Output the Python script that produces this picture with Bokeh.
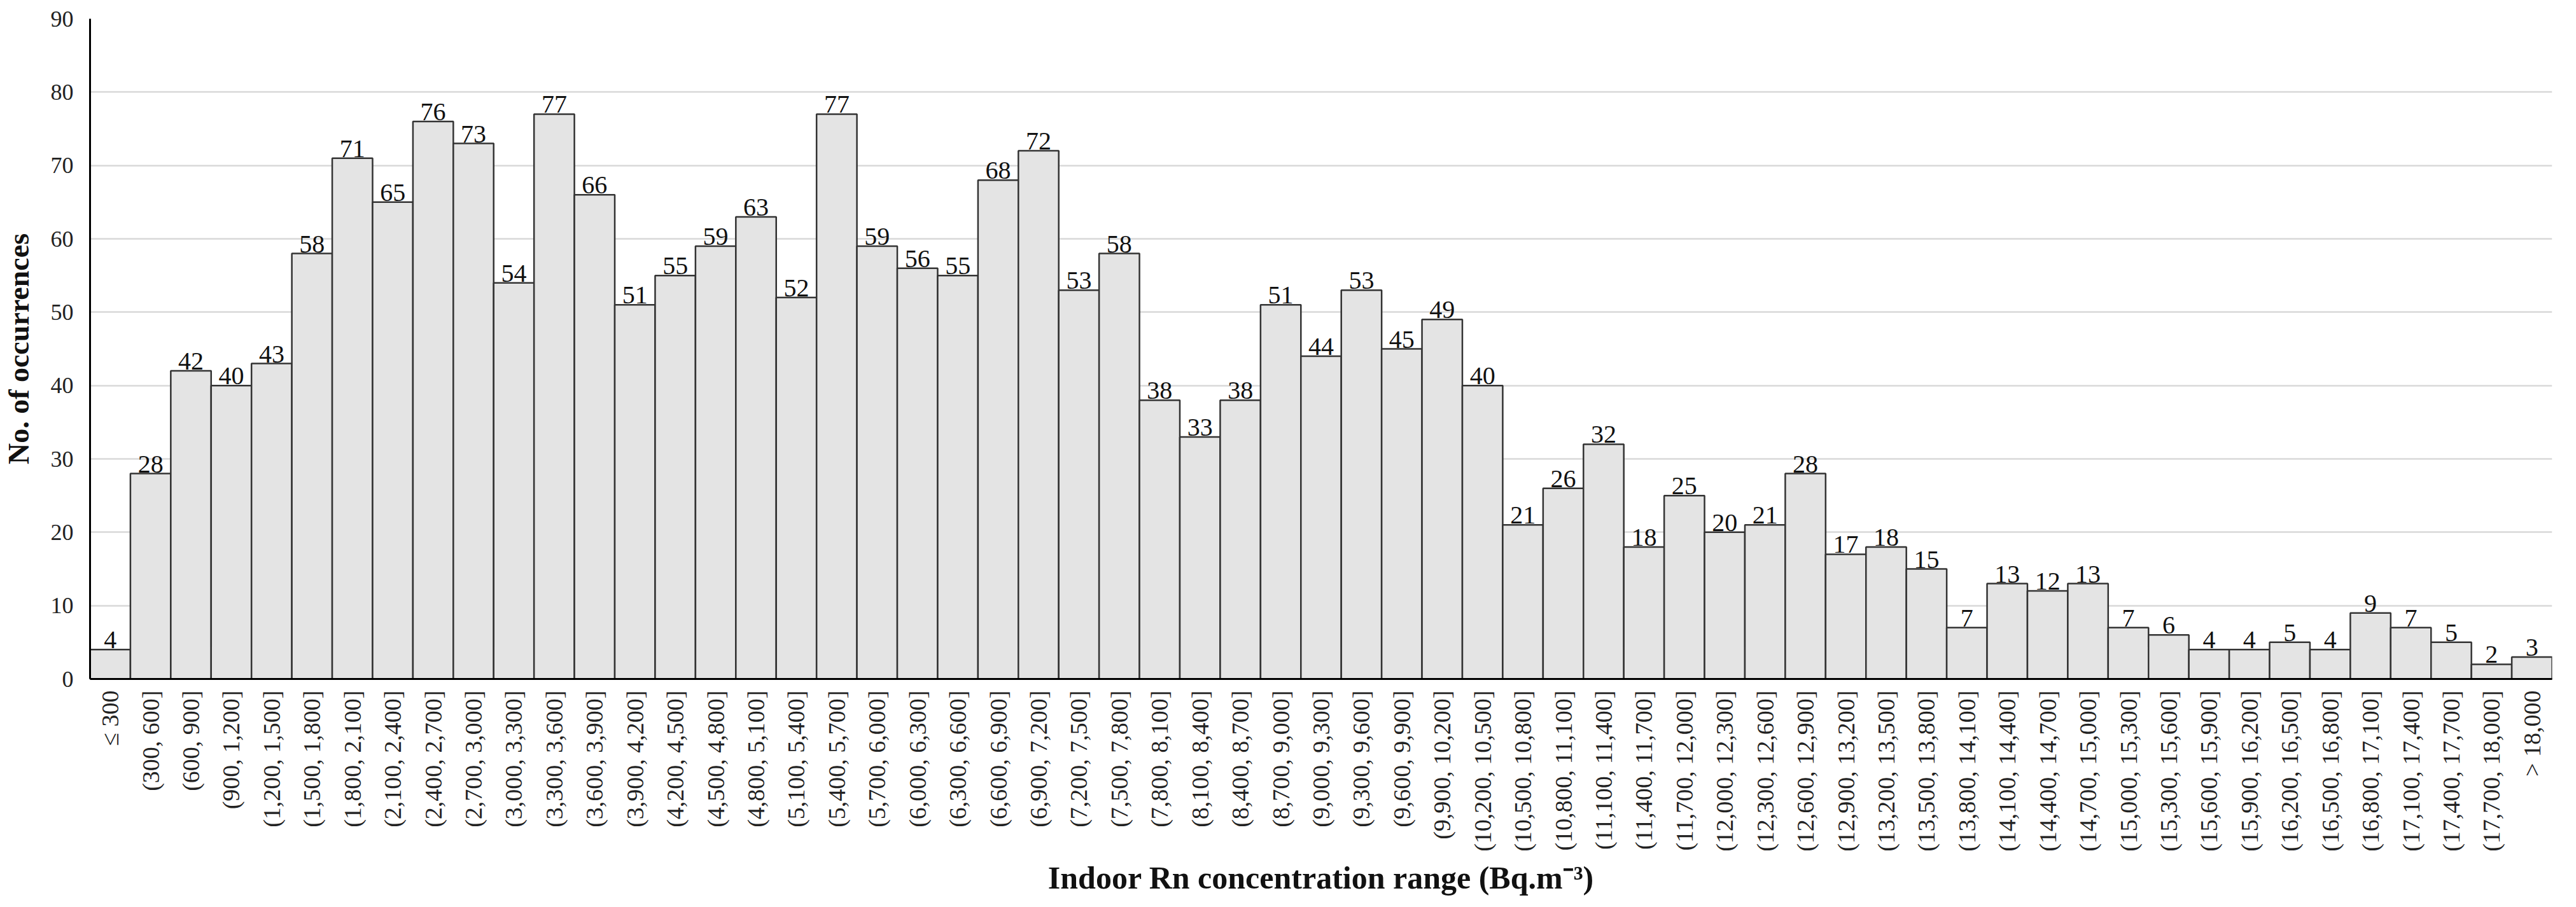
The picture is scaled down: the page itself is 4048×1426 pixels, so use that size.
import math
from bokeh.plotting import figure
from bokeh.models import ColumnDataSource, FactorRange, Range1d, FixedTicker
from bokeh.core.properties import value
from bokeh.embed import file_html
from bokeh.resources import INLINE

categories = [
    "≤ 300", "(300, 600]", "(600, 900]", "(900, 1,200]", "(1,200, 1,500]",
    "(1,500, 1,800]", "(1,800, 2,100]", "(2,100, 2,400]", "(2,400, 2,700]",
    "(2,700, 3,000]", "(3,000, 3,300]", "(3,300, 3,600]", "(3,600, 3,900]",
    "(3,900, 4,200]", "(4,200, 4,500]", "(4,500, 4,800]", "(4,800, 5,100]",
    "(5,100, 5,400]", "(5,400, 5,700]", "(5,700, 6,000]", "(6,000, 6,300]",
    "(6,300, 6,600]", "(6,600, 6,900]", "(6,900, 7,200]", "(7,200, 7,500]",
    "(7,500, 7,800]", "(7,800, 8,100]", "(8,100, 8,400]", "(8,400, 8,700]",
    "(8,700, 9,000]", "(9,000, 9,300]", "(9,300, 9,600]", "(9,600, 9,900]",
    "(9,900, 10,200]", "(10,200, 10,500]", "(10,500, 10,800]", "(10,800, 11,100]",
    "(11,100, 11,400]", "(11,400, 11,700]", "(11,700, 12,000]", "(12,000, 12,300]",
    "(12,300, 12,600]", "(12,600, 12,900]", "(12,900, 13,200]", "(13,200, 13,500]",
    "(13,500, 13,800]", "(13,800, 14,100]", "(14,100, 14,400]", "(14,400, 14,700]",
    "(14,700, 15,000]", "(15,000, 15,300]", "(15,300, 15,600]", "(15,600, 15,900]",
    "(15,900, 16,200]", "(16,200, 16,500]", "(16,500, 16,800]", "(16,800, 17,100]",
    "(17,100, 17,400]", "(17,400, 17,700]", "(17,700, 18,000]", "> 18,000",
]

occurrences = [
    4, 28, 42, 40, 43, 58, 71, 65, 76, 73,
    54, 77, 66, 51, 55, 59, 63, 52, 77, 59,
    56, 55, 68, 72, 53, 58, 38, 33, 38, 51,
    44, 53, 45, 49, 40, 21, 26, 32, 18, 25,
    20, 21, 28, 17, 18, 15, 7, 13, 12, 13,
    7, 6, 4, 4, 5, 4, 9, 7, 5, 2,
    3,
]

y_ticks = [0, 10, 20, 30, 40, 50, 60, 70, 80, 90]

x_title = "Indoor Rn concentration range (Bq.m⁻³)"
y_title = "No. of occurrences"

SERIF = "Liberation Serif"

source = ColumnDataSource(data=dict(
    cat=categories,
    val=occurrences,
    lab=[str(v) for v in occurrences],
))

p = figure(
    x_range=FactorRange(*categories),
    y_range=Range1d(0, 90),
    width=4032, height=1410,
    output_backend="svg",
    toolbar_location=None,
    min_border_left=137, min_border_right=22,
    min_border_top=29, min_border_bottom=60,
)

p.vbar(x="cat", top="val", width=1.0, source=source,
       fill_color="#e4e4e4", line_color="#333333", line_width=2.5)

p.text(x="cat", y="val", text="lab", source=source,
       text_align="center", text_baseline="bottom", y_offset=-2,
       text_font=value(SERIF), text_font_size="40px", text_color="#111111")

p.outline_line_color = None
p.background_fill_color = "white"

# grid
p.xgrid.grid_line_color = None
p.ygrid.grid_line_color = "#d9d9d9"
p.ygrid.grid_line_width = 2.5
p.ygrid.level = "underlay"

# y axis
p.yaxis.ticker = FixedTicker(ticks=y_ticks)
p.yaxis.axis_line_color = "black"
p.yaxis.axis_line_width = 3
p.yaxis.major_tick_line_color = None
p.yaxis.minor_tick_line_color = None
p.yaxis.major_label_standoff = 20
p.yaxis.major_label_text_font = SERIF
p.yaxis.major_label_text_font_size = "36px"
p.yaxis.major_label_text_color = "#222222"
p.yaxis.axis_label = y_title
p.yaxis.axis_label_text_font = SERIF
p.yaxis.axis_label_text_font_style = "bold"
p.yaxis.axis_label_text_font_size = "46px"
p.yaxis.axis_label_text_color = "#111111"
p.yaxis.axis_label_standoff = 22

# x axis
p.xaxis.axis_line_color = "black"
p.xaxis.axis_line_width = 3
p.xaxis.major_tick_line_color = None
p.xaxis.minor_tick_line_color = None
p.xaxis.major_label_orientation = math.pi / 2
p.xaxis.major_label_standoff = 12
p.xaxis.major_label_text_font = SERIF
p.xaxis.major_label_text_font_size = "38px"
p.xaxis.major_label_text_color = "#222222"
p.xaxis.axis_label = x_title
p.xaxis.axis_label_text_font = SERIF
p.xaxis.axis_label_text_font_style = "bold"
p.xaxis.axis_label_text_font_size = "50px"
p.xaxis.axis_label_text_color = "#111111"
p.xaxis.axis_label_standoff = 10

open("out.html", "w").write(file_html(p, INLINE))
